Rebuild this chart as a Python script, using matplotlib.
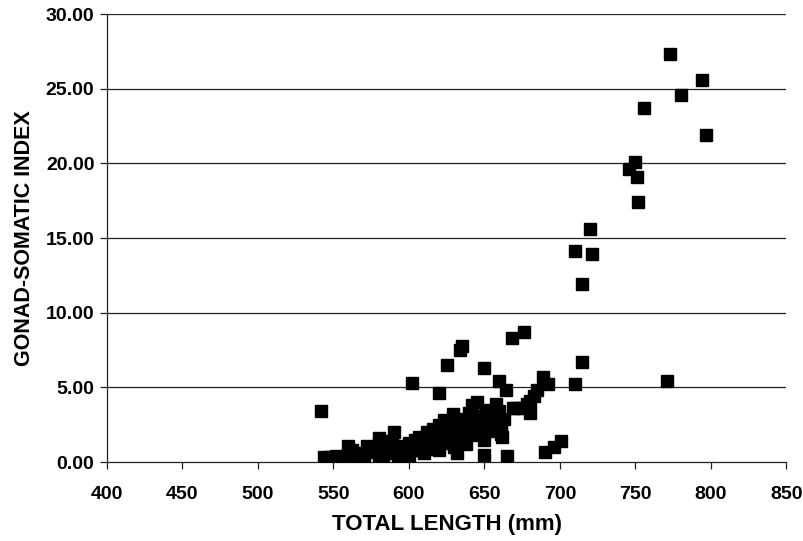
import numpy as np
import matplotlib
matplotlib.use("Agg")
import matplotlib.pyplot as plt
from matplotlib.ticker import FormatStrFormatter

# total length (mm) and gonad-somatic index
length_mm = [
    773, 794, 780, 756, 797, 750, 746, 751, 752,
    720, 710, 721, 715, 715, 710, 771, 701, 696, 690,
    676, 668, 635, 634, 625, 650, 660, 689, 692, 620,
    664, 685, 680, 683, 674, 680, 669, 645, 642, 658,
    661, 650, 665, 602, 542, 544, 555, 560, 580, 590,
    547, 552, 556, 560, 562, 565, 568, 570, 572, 575,
    577, 580, 580, 583, 585, 587, 589, 590, 592, 593,
    594, 596, 598, 600, 600, 602, 604, 605, 607, 608,
    610, 611, 612, 614, 615, 616, 618, 619, 620, 620,
    622, 623, 624, 625, 626, 628, 629, 630, 631, 632,
    633, 634, 635, 636, 638, 638, 640, 641, 642, 643,
    645, 646, 647, 648, 650, 651, 652, 654, 655, 657,
    658, 660, 661, 662, 663, 660, 671, 678,
]
gsi = [
    27.3, 25.6, 24.6, 23.7, 21.9, 20.1, 19.6, 19.1, 17.4,
    15.6, 14.1, 13.9, 11.9, 6.7, 5.2, 5.4, 1.4, 1.0, 0.7,
    8.7, 8.3, 7.8, 7.5, 6.5, 6.3, 5.4, 5.7, 5.2, 4.6,
    4.8, 4.8, 4.1, 4.4, 3.6, 3.25, 3.6, 4.0, 3.8, 3.9,
    1.9, 0.5, 0.4, 5.3, 3.4, 0.35, 0.25, 1.1, 1.6, 2.0,
    0.35, 0.4, 0.3, 0.5, 0.8, 0.4, 0.6, 0.35, 1.1, 0.7,
    0.9, 1.3, 0.5, 0.35, 1.0, 0.6, 1.4, 0.8, 1.1, 0.3,
    0.05, 0.6, 1.0, 0.4, 1.3, 0.8, 1.5, 0.8, 1.7, 1.1,
    0.6, 1.4, 2.0, 1.0, 1.7, 2.2, 0.9, 1.5, 2.5, 0.8,
    1.9, 2.8, 1.3, 2.2, 1.6, 2.6, 3.2, 1.0, 1.9, 0.6,
    2.4, 2.1, 2.9, 1.5, 1.2, 2.7, 3.3, 1.8, 2.3, 3.0,
    2.6, 1.9, 3.1, 2.2, 1.5, 3.5, 2.8, 2.1, 3.3, 2.5,
    3.0, 3.4, 2.3, 1.7, 2.9, 2.8, 3.6, 3.9,
]

x_ticks = [400, 450, 500, 550, 600, 650, 700, 750, 800, 850]
y_ticks = [0, 5, 10, 15, 20, 25, 30]

plt.rcParams['font.family'] = ['Liberation Sans', 'DejaVu Sans']

fig = plt.figure(figsize=(8.04, 5.41), dpi=100)
ax = fig.add_axes([0.133, 0.146, 0.845, 0.828])

for yv in y_ticks[1:]:
    ax.axhline(yv, color='#222222', lw=0.9, zorder=1)

ax.plot(length_mm, gsi, ls='none', marker='s', ms=8, color='black', zorder=3)

ax.set_xlim(400, 850)
ax.set_ylim(0, 30)
ax.set_xticks(x_ticks)
ax.set_yticks(y_ticks)
ax.yaxis.set_major_formatter(FormatStrFormatter('%.2f'))
ax.tick_params(labelsize=14, width=0.9, length=5, color='#222222')
ax.tick_params(axis='x', pad=12)
ax.tick_params(axis='y', pad=4)
for lab in ax.get_xticklabels() + ax.get_yticklabels():
    lab.set_fontweight('bold')

for side in ['top', 'right']:
    ax.spines[side].set_visible(False)
for side in ['left', 'bottom']:
    ax.spines[side].set_color('#222222')
    ax.spines[side].set_linewidth(0.9)

ax.set_xlabel('TOTAL LENGTH (mm)', fontsize=16, fontweight='bold', labelpad=8)
ax.set_ylabel('GONAD-SOMATIC INDEX', fontsize=15.5, fontweight='bold', labelpad=8)

fig.savefig('out.png', dpi=100)
